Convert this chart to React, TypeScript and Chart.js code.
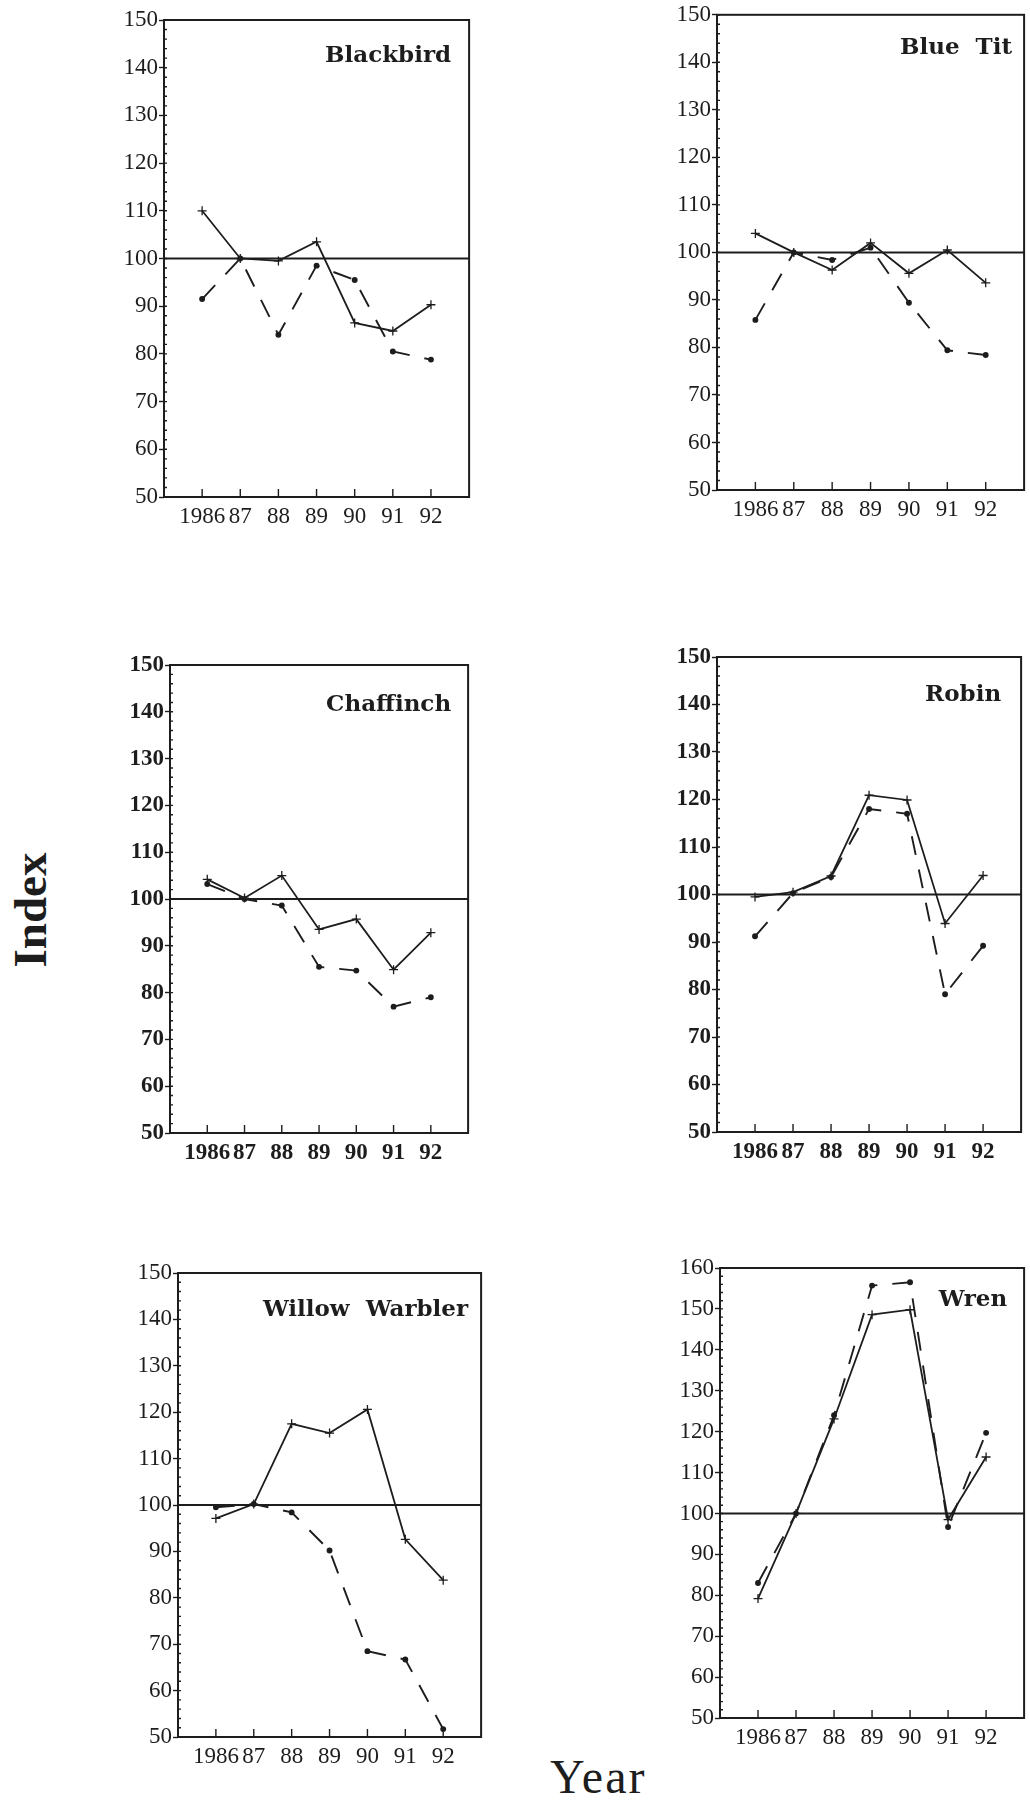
import React, { useEffect, useRef } from 'react';
import { Chart, registerables } from 'chart.js';

Chart.register(...registerables);

// ---------- data ----------
const years = [1986, 1987, 1988, 1989, 1990, 1991, 1992];
const yearLabels = ['1986', '87', '88', '89', '90', '91', '92'];
const baselineIndex = 100;

const blackbirdSolid = [110, 100, 99.5, 103.5, 86.5, 84.8, 90.3];
const blackbirdDashed = [91.5, 100, 84, 98.5, 95.5, 80.5, 78.8];
const blueTitSolid = [104, 100, 96.3, 102, 95.6, 100.5, 93.6];
const blueTitDashed = [85.8, 100, 98.4, 101, 89.4, 79.4, 78.4];
const chaffinchSolid = [104.2, 100.2, 105, 93.5, 95.7, 84.9, 92.8];
const chaffinchDashed = [103.2, 100, 98.6, 85.5, 84.7, 77, 79];
const robinSolid = [99.5, 100.5, 103.9, 120.9, 119.9, 93.9, 104];
const robinDashed = [91.2, 100.3, 103.7, 118, 117, 79, 89.2];
const willowSolid = [97.1, 100.2, 117.5, 115.5, 120.6, 92.6, 83.8];
const willowDashed = [99.5, 100.2, 98.4, 90.2, 68.5, 66.7, 51.7];
const wrenSolid = [79.2, 100, 123.1, 148.6, 149.8, 98.5, 113.8];
const wrenDashed = [83, 100, 124, 155.7, 156.5, 96.7, 119.7];

const xMin = 1985;
const xMax = 1993;
const yMin = 50;

// ---------- layout / style ----------
const ink = '#1d1d1d';

type Panel = {
  title: string;
  solid: number[];
  dashed: number[];
  yMax: number;
  box: { l: number; t: number; r: number; b: number };
  titleRight: number;
  titleBase: number;
  bold: boolean;
};

const panels: Panel[] = [
  { title: 'Blackbird', solid: blackbirdSolid, dashed: blackbirdDashed, yMax: 150, box: { l: 164, t: 20, r: 470, b: 497 }, titleRight: 452, titleBase: 62, bold: false },
  { title: 'Blue  Tit', solid: blueTitSolid, dashed: blueTitDashed, yMax: 150, box: { l: 717, t: 14, r: 1027, b: 490 }, titleRight: 1015, titleBase: 53, bold: false },
  { title: 'Chaffinch', solid: chaffinchSolid, dashed: chaffinchDashed, yMax: 150, box: { l: 170, t: 665, r: 469, b: 1133 }, titleRight: 452, titleBase: 711, bold: true },
  { title: 'Robin', solid: robinSolid, dashed: robinDashed, yMax: 150, box: { l: 717, t: 657, r: 1022, b: 1132 }, titleRight: 1002, titleBase: 701, bold: true },
  { title: 'Willow  Warbler', solid: willowSolid, dashed: willowDashed, yMax: 150, box: { l: 178, t: 1273, r: 482, b: 1737 }, titleRight: 469, titleBase: 1316, bold: false },
  { title: 'Wren', solid: wrenSolid, dashed: wrenDashed, yMax: 160, box: { l: 720, t: 1268, r: 1025, b: 1718 }, titleRight: 1008, titleBase: 1306, bold: false },
];

const panelDecor = {
  id: 'panelDecor',
  afterDatasetsDraw(chart: any, _args: any, opts: any) {
    const { ctx, chartArea: a, scales } = chart;
    ctx.save();
    ctx.strokeStyle = ink;
    ctx.lineWidth = 2;
    ctx.strokeRect(a.left, a.top, a.right - a.left, a.bottom - a.top);
    // inside x ticks
    ctx.lineWidth = 1.4;
    ctx.beginPath();
    for (const yr of years) {
      const px = scales.x.getPixelForValue(yr);
      ctx.moveTo(px, a.bottom);
      ctx.lineTo(px, a.bottom - 8);
    }
    // minor y ticks inside
    for (let v = scales.y.min; v <= scales.y.max; v += 2) {
      const py = scales.y.getPixelForValue(v);
      ctx.moveTo(a.left, py);
      ctx.lineTo(a.left + 3, py);
    }
    ctx.stroke();
    // title
    ctx.fillStyle = ink;
    ctx.font = opts.font;
    ctx.textAlign = 'right';
    ctx.textBaseline = 'alphabetic';
    try { (ctx as any).letterSpacing = opts.spacing; } catch (e) {}
    ctx.fillText(opts.title, a.right - opts.dx, a.top + opts.dy);
    ctx.restore();
  },
};

function PanelChart({ p }: { p: Panel }) {
  const ref = useRef<HTMLCanvasElement>(null);
  const cx = p.box.l - 68;
  const cy = Math.max(0, p.box.t - 20);
  const cr = Math.min(p.box.r + 5, 1030);
  const cb = p.box.b + 40;
  const w = cr - cx;
  const h = cb - cy;
  useEffect(() => {
    if (!ref.current) return;
    const tickFont = { family: '"Liberation Serif", "Times New Roman", serif', size: 23, weight: p.bold ? 'bold' : 'normal' } as any;
    const chart = new Chart(ref.current, {
      type: 'line',
      data: {
        datasets: [
          {
            data: [{ x: xMin, y: baselineIndex }, { x: xMax, y: baselineIndex }],
            borderColor: ink,
            borderWidth: 2,
            pointRadius: 0,
          },
          {
            data: years.map((x, i) => ({ x, y: p.solid[i] })),
            borderColor: ink,
            borderWidth: 1.8,
            pointStyle: 'cross',
            pointRadius: 4.5,
            pointBorderWidth: 1.3,
            pointBorderColor: ink,
          },
          {
            data: years.map((x, i) => ({ x, y: p.dashed[i] })),
            borderColor: ink,
            borderWidth: 1.9,
            borderDash: [19, 15],
            pointStyle: 'circle',
            pointRadius: 2,
            pointBackgroundColor: ink,
            pointBorderColor: ink,
          },
        ] as any,
      },
      options: {
        animation: false,
        responsive: false,
        devicePixelRatio: 1,
        layout: { padding: { top: p.box.t - cy, right: cr - p.box.r, left: 0, bottom: 0 } },
        plugins: {
          legend: { display: false },
          tooltip: { enabled: false },
          panelDecor: {
            title: p.title,
            dx: p.box.r - p.titleRight,
            dy: p.titleBase - p.box.t,
            font: 'bold 23px "DejaVu Serif", serif',
            spacing: '0px',
          },
        } as any,
        scales: {
          x: {
            type: 'linear',
            min: xMin,
            max: xMax,
            afterBuildTicks: (s: any) => { s.ticks = years.map((v) => ({ value: v })); },
            afterFit: (s: any) => { s.height = cb - p.box.b; },
            ticks: {
              callback: (_v: any, i: number) => yearLabels[i],
              autoSkip: false,
              maxRotation: 0,
              minRotation: 0,
              padding: 6,
              color: ink,
              font: tickFont,
            },
            grid: { display: false, drawTicks: false },
            border: { display: false },
          },
          y: {
            min: yMin,
            max: p.yMax,
            afterFit: (s: any) => { s.width = p.box.l - cx; },
            ticks: { stepSize: 10, autoSkip: false, padding: 1, color: ink, font: tickFont },
            grid: { drawOnChartArea: false, tickLength: 5, color: ink, tickWidth: 1.4 } as any,
            border: { display: false },
          },
        } as any,
      },
      plugins: [panelDecor as any],
    });
    return () => chart.destroy();
  }, []);
  return (
    <canvas
      ref={ref}
      width={w}
      height={h}
      style={{ position: 'absolute', left: cx, top: cy, width: w, height: h }}
    />
  );
}

export default function App() {
  return (
    <div style={{ position: 'absolute', left: 0, top: 0, width: 1030, height: 1801, background: '#fff', overflow: 'hidden' }}>
      {panels.map((p) => (
        <PanelChart key={p.title} p={p} />
      ))}
      <div
        style={{
          position: 'absolute',
          left: 30,
          top: 910,
          transform: 'translate(-50%, -50%) rotate(-90deg)',
          font: 'bold 47px "Liberation Serif", "Times New Roman", serif',
          color: ink,
          whiteSpace: 'nowrap',
          lineHeight: '47px',
        }}
      >
        Index
      </div>
      <div
        style={{
          position: 'absolute',
          left: 550,
          top: 1753,
          font: '48px "Liberation Serif", "Times New Roman", serif',
          letterSpacing: '2px',
          color: ink,
          whiteSpace: 'nowrap',
          lineHeight: '48px',
        }}
      >
        Year
      </div>
    </div>
  );
}
